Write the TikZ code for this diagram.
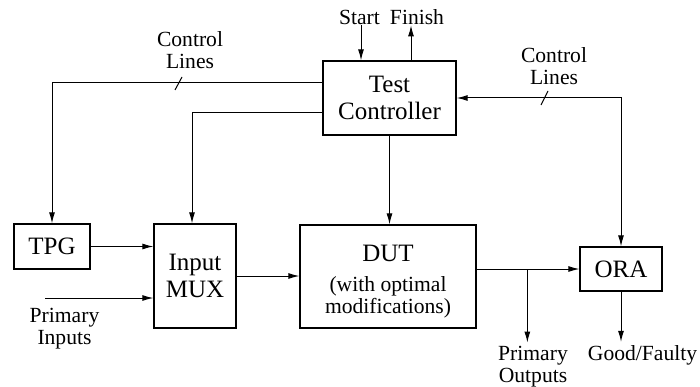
\documentclass[tikz,border=0pt]{standalone}
\usepackage{fontspec}
\IfFontExistsTF{LiberationSerif-Regular.ttf}
  {\setmainfont{LiberationSerif-Regular.ttf}}
  {\setmainfont{Liberation Serif}}
\usetikzlibrary{arrows.meta,calc}
\begin{document}
\begin{tikzpicture}[x=1pt,y=-1pt,
  blk/.style={draw, line width=1.3pt, inner sep=0pt, align=center, font=\rmfamily\fontsize{25}{27.5}\selectfont},
  lbl/.style={inner sep=0pt, align=center, font=\rmfamily\fontsize{21.6}{22}\selectfont},
  tip/.style={-{Latex[length=11pt,width=6pt]}},
  wire/.style={line width=1pt},
  conn/.style={wire, tip},
  both/.style={wire, {Latex[length=11pt,width=6pt]}-{Latex[length=11pt,width=6pt]}}
  ]
\useasboundingbox (0,0) rectangle (700,387);
% blocks
\node[blk, minimum width=133pt, minimum height=74pt] (tc) at (389.5,98) {Test\\Controller};
\node[blk, minimum width=76pt, minimum height=45pt] (tpg) at (52,246.5) {TPG};
\node[blk, minimum width=82pt, minimum height=104pt] (mux) at (195,276) {Input\\MUX};
\node[blk, minimum width=176pt, minimum height=103pt, font=\rmfamily\fontsize{21.6}{22}\selectfont] (dut) at (388,276.5)
  {\rule{0pt}{27pt}{\fontsize{25}{30}\selectfont DUT}\\[8pt](with optimal\\modifications)};
\node[blk, minimum width=82pt, minimum height=44pt] (ora) at (621,269) {ORA};
% labels
\node[lbl] (cl1) at (190,50.1) {Control\\Lines};
\node[lbl] (cl2) at (554,66.6) {Control\\Lines};
\node[lbl] (pin) at (64.5,328.2) {Primary\\Inputs};
\node[lbl] (pout) at (533,366.2) {Primary\\Outputs};
\node[lbl, anchor=base] (gf) at (642.5,360) {Good/Faulty};
\node[lbl, anchor=base] (start) at (359.5,25) {Start};
\node[lbl, anchor=base] (finish) at (417,25) {Finish};
% start / finish
\coordinate (sx) at ([xshift=-28.5pt]tc.north);
\coordinate (fx) at ([xshift=21.5pt]tc.north);
\draw[conn] (sx |- start.south) -- (sx);
\draw[conn] (fx) -- (fx |- finish.south);
% control lines
\coordinate (tcA) at ([yshift=15pt]tc.west);
\coordinate (tcB) at ([yshift=-15pt]tc.west);
\coordinate (muxin) at ([xshift=-3pt]mux.north);
\draw[conn] (tcA) -| (tpg.north);
\draw[conn] (tcB) -| (muxin);
\draw[conn] (tc.south) -- (tc.south |- dut.north);
\draw[both] (tc.east) -| (ora.north);
\draw[wire] (175,90) -- (182,77);
\draw[wire] (541,105) -- (548,91);
% data path
\coordinate (piS) at (45,298);
\draw[conn] (tpg.east) -- (tpg.east -| mux.west);
\draw[conn] (piS) -- (piS -| mux.west);
\draw[conn] (mux.east) -- (mux.east -| dut.west);
\draw[conn] (dut.east |- ora.west) -- (ora.west);
\coordinate (br) at ([xshift=-52pt]ora.west);
\draw[conn, shorten >=3pt] (br) -- (br |- pout.north);
\draw[conn, shorten >=3pt] (ora.south) -- (ora.south |- gf.north);
\end{tikzpicture}
\end{document}
